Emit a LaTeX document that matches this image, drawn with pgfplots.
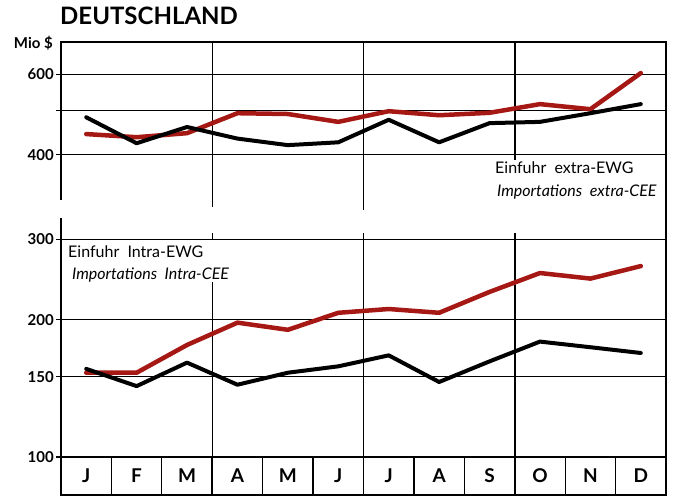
\documentclass[border=0pt]{standalone}
\usepackage{pgfplots}
\pgfplotsset{compat=1.18}
\usepackage{fontspec}
\setmainfont{Lato}
\definecolor{redline}{RGB}{165,24,20}

\pgfplotstableread{
x   ub   ur   lb   lr
0.5 483 444 156 153
1.5 424 437 143 153
2.5 460 446 161 176
3.5 434 493 144 197
4.5 420 491 153 190
5.5 426 472 158 207
6.5 477 498 167 211
7.5 426 488 146 207
8.5 469 494 162 230
9.5 472 516 179 253
10.5 493 503 174 246
11.5 516 603 169 262
}\chartdata

\begin{document}
\begin{tikzpicture}
\path[use as bounding box] (0pt,0pt) rectangle (677pt,497pt);

\node[anchor=base west, inner sep=0pt, font=\fontsize{24}{24}\selectfont\bfseries] at (60pt,472pt) {DEUTSCHLAND};
\node[anchor=base east, inner sep=0pt, font=\fontsize{15}{15}\selectfont\bfseries] at (53pt,448pt) {Mio \$};

% upper panel
\begin{axis}[at={(61pt,292pt)}, anchor=south west, scale only axis, width=605pt, height=163pt,
  xmin=0, xmax=12, ymode=log, ymin=311, ymax=705,
  axis line style={draw=none}, xtick=\empty,
  ytick={400,500,600}, yticklabels={400,,600},
  yminorticks=false, ymajorgrids,
  grid style={black, line width=1.1pt},
  tick style={black, line width=1.1pt},
  major tick length=5pt, tick align=outside, ytick pos=left,
  yticklabel style={font=\fontsize{15}{15}\selectfont\bfseries, inner sep=2pt},
  clip=false]
  \draw[black, line width=1.3pt] (rel axis cs:0,0.03) -- (rel axis cs:0,1) -- (rel axis cs:1,1) -- ([yshift=-14pt]rel axis cs:1,0);
  \draw[black, line width=1.5pt] (axis cs:3,705) -- ([yshift=-2pt]axis cs:3,311);
  \draw[black, line width=1.5pt] (axis cs:6,705) -- ([yshift=-5pt]axis cs:6,311);
  \draw[black, line width=1.5pt] (axis cs:9,705) -- (axis cs:9,390);
  \addplot[redline, line width=4.5pt, line join=round, line cap=round] table[x=x, y=ur] {\chartdata};
  \addplot[black, line width=4pt, line join=round, line cap=round] table[x=x, y=ub] {\chartdata};
\end{axis}

% lower panel
\begin{axis}[at={(61pt,40pt)}, anchor=south west, scale only axis, width=605pt, height=239pt,
  xmin=0, xmax=12, ymode=log, ymin=100, ymax=334,
  axis line style={draw=none}, xtick=\empty,
  ytick={100,150,200,300}, yticklabels={100,150,200,300},
  yminorticks=false, ymajorgrids,
  grid style={black, line width=1.1pt},
  tick style={black, line width=1.1pt},
  major tick length=5pt, tick align=outside, ytick pos=left,
  yticklabel style={font=\fontsize{15}{15}\selectfont\bfseries, inner sep=2pt},
  clip=false]
  \draw[black, line width=1.3pt] (rel axis cs:0,0) -- (rel axis cs:0,1);
  \draw[black, line width=1.3pt] (rel axis cs:1,0) -- (rel axis cs:1,1);
  \draw[black, line width=1.5pt] (axis cs:3,242) -- (axis cs:3,100);
  \draw[black, line width=1.5pt] (axis cs:3,300) -- ([yshift=6pt]axis cs:3,300);
  \draw[black, line width=1.5pt] (axis cs:6,309) -- (axis cs:6,100);
  \draw[black, line width=1.5pt] (axis cs:9,310) -- (axis cs:9,100);
  \addplot[redline, line width=4.5pt, line join=round, line cap=round] table[x=x, y=lr] {\chartdata};
  \addplot[black, line width=4pt, line join=round, line cap=round] table[x=x, y=lb] {\chartdata};
\end{axis}

% month strip
\begin{axis}[at={(61pt,2pt)}, anchor=south west, scale only axis, width=605pt, height=38pt,
  xmin=0, xmax=12, ymin=0, ymax=1, ytick=\empty,
  xtick={1,...,11}, xticklabels={}, major tick length=0pt, xmajorgrids,
  grid style={black, line width=1.2pt}, axis line style={black, line width=1.4pt},
  clip=false]
  \draw[black, line width=1.6pt] (axis cs:3,0) -- (axis cs:3,1);
  \draw[black, line width=1.6pt] (axis cs:6,0) -- (axis cs:6,1);
  \draw[black, line width=1.6pt] (axis cs:9,0) -- (axis cs:9,1);
  \addplot[draw=none, mark=none, nodes near coords, point meta=explicit symbolic,
    every node near coord/.append style={anchor=center, inner sep=0pt,
      font=\fontsize{19}{19}\selectfont\bfseries}]
    table[meta=lab] {
x y lab
0.5 0.5 J
1.5 0.5 F
2.5 0.5 M
3.5 0.5 A
4.5 0.5 M
5.5 0.5 J
6.5 0.5 J
7.5 0.5 A
8.5 0.5 S
9.5 0.5 O
10.5 0.5 N
11.5 0.5 D
};
\end{axis}

\node[anchor=base west, inner sep=0pt, font=\fontsize{16}{16}\selectfont] at (68pt,239pt) {Einfuhr\ \ Intra-EWG};
\node[anchor=base west, inner sep=0pt, font=\fontsize{16}{16}\selectfont\itshape] at (72pt,217pt) {Importations\ \ Intra-CEE};
\node[anchor=base west, inner sep=0pt, font=\fontsize{16}{16}\selectfont] at (495pt,323pt) {Einfuhr\ \ extra-EWG};
\node[anchor=base west, inner sep=0pt, font=\fontsize{16}{16}\selectfont\itshape] at (497pt,300pt) {Importations\ \ extra-CEE};
\end{tikzpicture}
\end{document}
